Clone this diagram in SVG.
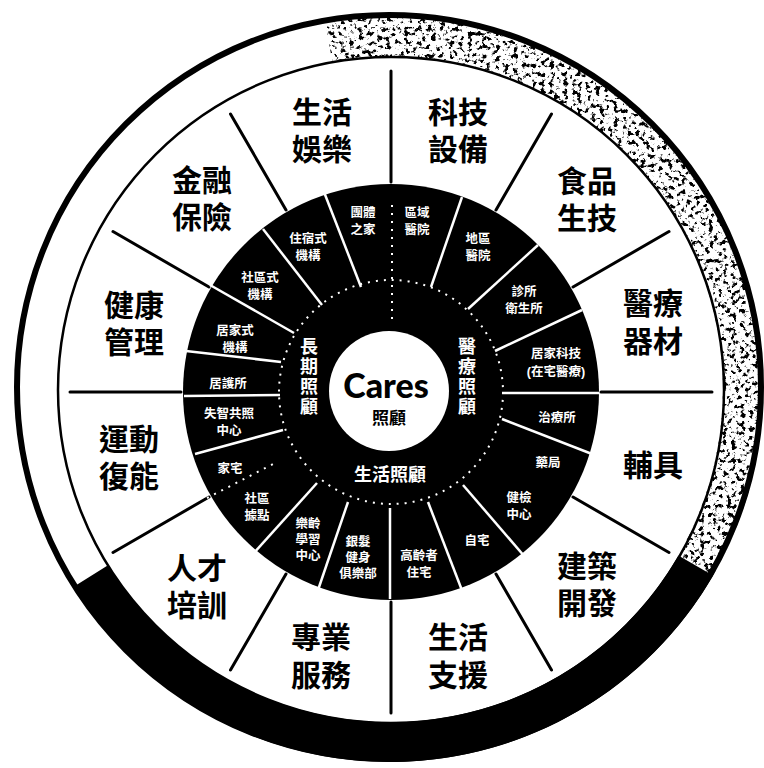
<svg xmlns="http://www.w3.org/2000/svg" width="764" height="768" viewBox="0 0 764 768">
<defs>
<style>
.big{font-family:"Liberation Sans","Noto Sans CJK TC","Noto Sans CJK SC",sans-serif;font-weight:bold;font-size:30px;fill:#000;text-anchor:middle}
.it{font-family:"Liberation Sans","Noto Sans CJK TC","Noto Sans CJK SC",sans-serif;font-weight:bold;font-size:12.5px;fill:#fff;text-anchor:middle}
.sec{font-family:"Noto Sans CJK TC","Noto Sans CJK SC",sans-serif;font-weight:bold;font-size:18px;fill:#fff;text-anchor:middle}
.vt{writing-mode:vertical-rl;letter-spacing:2px}
.dv{stroke:#000;stroke-width:3;stroke-linecap:round}
.wl{stroke:#fff;stroke-width:2.5}
.dt{stroke:#fff;stroke-width:2;stroke-dasharray:2 6;fill:none}
</style>
<filter id="speck" filterUnits="userSpaceOnUse" x="0" y="0" width="764" height="768">
<feTurbulence type="fractalNoise" baseFrequency="0.22" numOctaves="3" seed="11" result="n"/>
<feColorMatrix in="n" type="matrix" values="0 0 0 0 0  0 0 0 0 0  0 0 0 0 0  8 0 0 0 -4.3" result="a"/>
<feComposite in="a" in2="SourceAlpha" operator="in"/>
</filter>
</defs>
<rect width="764" height="768" fill="#fff"/>

<g id="rim">
<path d="M325.2 21.7 A373 373 0 0 1 713 575.5 L678.4 555.5 A333 333 0 0 0 332.2 61.1 Z" fill="#000" filter="url(#speck)"/>
<path d="M713 575.5 A373 373 0 0 1 73.7 586.7 L107.6 565.5 A333 333 0 0 0 678.4 555.5 Z" fill="#000"/>
<circle cx="389" cy="387" r="372" fill="none" stroke="#000" stroke-width="6"/>
<circle cx="391" cy="390" r="333" fill="none" stroke="#000" stroke-width="2.5"/>
</g>

<g id="connectors">
<line class="dv" x1="391" y1="182" x2="391" y2="71"/>
<line class="dv" x1="496" y1="210" x2="551.5" y2="114"/>
<line class="dv" x1="573" y1="287" x2="669" y2="231.5"/>
<line class="dv" x1="601" y1="392" x2="712" y2="392"/>
<line class="dv" x1="573" y1="497" x2="669" y2="552.5"/>
<line class="dv" x1="496" y1="574" x2="551.5" y2="670"/>
<line class="dv" x1="391" y1="602" x2="391" y2="713"/>
<line class="dv" x1="286" y1="574" x2="230.5" y2="670"/>
<line class="dv" x1="209" y1="497" x2="113" y2="552.5"/>
<line class="dv" x1="181" y1="392" x2="70" y2="392"/>
<line class="dv" x1="209" y1="287" x2="113" y2="231.5"/>
<line class="dv" x1="286" y1="210" x2="230.5" y2="114"/>
</g>

<g id="disk">
<circle cx="391" cy="392" r="208" fill="#000"/>
</g>

<g id="inner-connectors">
<line class="wl" x1="324" y1="192" x2="361" y2="287"/>
<line class="wl" x1="263" y1="229" x2="322" y2="305"/>
<line class="wl" x1="210" y1="285" x2="294" y2="333"/>
<line class="wl" x1="186" y1="351" x2="281" y2="362"/>
<line class="wl" x1="184" y1="396" x2="280" y2="395"/>
<line class="wl" x1="195" y1="454" x2="283" y2="430"/>
<line class="dt" x1="207" y1="498" x2="277" y2="462"/>
<line class="wl" x1="253" y1="554" x2="317" y2="483"/>
<line class="wl" x1="317" y1="593" x2="348" y2="502"/>
<line class="wl" x1="390" y1="599" x2="390" y2="508"/>
<line class="wl" x1="428" y1="502" x2="463" y2="593"/>
<line class="wl" x1="463" y1="485" x2="525" y2="557"/>
<line class="wl" x1="502" y1="419" x2="592" y2="454"/>
<line class="wl" x1="502" y1="393" x2="599" y2="393"/>
<line class="wl" x1="495" y1="351" x2="582" y2="310"/>
<line class="wl" x1="468" y1="309" x2="538" y2="245"/>
<line class="wl" x1="431" y1="287" x2="462" y2="197"/>
<line class="dt" x1="392" y1="205" x2="392" y2="323"/>
<circle class="dt" cx="391" cy="392" r="112" stroke-width="1.5" stroke-dasharray="1.5 15"/>
</g>

<g id="center">
<circle cx="389" cy="391" r="60" fill="#fff"/>
<text x="386" y="398" font-family="Lato, 'Liberation Sans', sans-serif" font-weight="900" font-size="34" text-anchor="middle" fill="#000">Cares</text>
<text x="389" y="424" font-family="'Noto Sans CJK TC', sans-serif" font-weight="bold" font-size="17" text-anchor="middle" fill="#000">照顧</text>
</g>

<g id="sec-longterm"><text class="sec vt" x="309" y="377">長期照顧</text></g>
<g id="sec-medical"><text class="sec vt" x="467" y="377">醫療照顧</text></g>
<g id="sec-life"><text class="sec" x="390" y="481">生活照顧</text></g>

<g id="i-group-home"><text class="it"><tspan x="363" y="217">團體</tspan><tspan x="363" y="234">之家</tspan></text></g>
<g id="i-regional-hosp"><text class="it"><tspan x="417" y="217">區域</tspan><tspan x="417" y="234">醫院</tspan></text></g>
<g id="i-district-hosp"><text class="it"><tspan x="478" y="243">地區</tspan><tspan x="478" y="260">醫院</tspan></text></g>
<g id="i-residential"><text class="it"><tspan x="308" y="243">住宿式</tspan><tspan x="308" y="260">機構</tspan></text></g>
<g id="i-community-inst"><text class="it"><tspan x="260" y="282">社區式</tspan><tspan x="260" y="299">機構</tspan></text></g>
<g id="i-home-inst"><text class="it"><tspan x="235" y="335">居家式</tspan><tspan x="235" y="352">機構</tspan></text></g>
<g id="i-home-nursing"><text class="it" x="228" y="388">居護所</text></g>
<g id="i-dementia"><text class="it"><tspan x="229" y="418">失智共照</tspan><tspan x="229" y="435">中心</tspan></text></g>
<g id="i-house"><text class="it" x="230" y="473">家宅</text></g>
<g id="i-community-point"><text class="it"><tspan x="257" y="503">社區</tspan><tspan x="257" y="520">據點</tspan></text></g>
<g id="i-learning"><text class="it"><tspan x="308" y="528">樂齡</tspan><tspan x="308" y="544">學習</tspan><tspan x="308" y="560">中心</tspan></text></g>
<g id="i-fitness"><text class="it"><tspan x="358" y="546">銀髮</tspan><tspan x="358" y="562">健身</tspan><tspan x="358" y="578">俱樂部</tspan></text></g>
<g id="i-senior-housing"><text class="it"><tspan x="419" y="560">高齡者</tspan><tspan x="419" y="577">住宅</tspan></text></g>
<g id="i-own-home"><text class="it" x="477" y="545">自宅</text></g>
<g id="i-checkup"><text class="it"><tspan x="519" y="502">健檢</tspan><tspan x="519" y="519">中心</tspan></text></g>
<g id="i-pharmacy"><text class="it" x="548" y="467">藥局</text></g>
<g id="i-therapy"><text class="it" x="557" y="422">治療所</text></g>
<g id="i-home-tech"><text class="it"><tspan x="556" y="358">居家科技</tspan><tspan x="556" y="376">(在宅醫療)</tspan></text></g>
<g id="i-clinic"><text class="it"><tspan x="524" y="296">診所</tspan><tspan x="524" y="313">衛生所</tspan></text></g>

<g id="s-leisure"><text class="big"><tspan x="322" y="123">生活</tspan><tspan x="322" y="160">娛樂</tspan></text></g>
<g id="s-tech"><text class="big"><tspan x="458" y="123">科技</tspan><tspan x="458" y="160">設備</tspan></text></g>
<g id="s-food"><text class="big"><tspan x="587" y="192">食品</tspan><tspan x="587" y="229">生技</tspan></text></g>
<g id="s-medical-device"><text class="big"><tspan x="653" y="314">醫療</tspan><tspan x="653" y="352">器材</tspan></text></g>
<g id="s-aids"><text class="big" x="653" y="476">輔具</text></g>
<g id="s-building"><text class="big"><tspan x="587" y="577">建築</tspan><tspan x="587" y="614">開發</tspan></text></g>
<g id="s-life-support"><text class="big"><tspan x="458" y="648">生活</tspan><tspan x="458" y="686">支援</tspan></text></g>
<g id="s-professional"><text class="big"><tspan x="321" y="648">專業</tspan><tspan x="321" y="686">服務</tspan></text></g>
<g id="s-talent"><text class="big"><tspan x="197" y="579">人才</tspan><tspan x="197" y="616">培訓</tspan></text></g>
<g id="s-rehab"><text class="big"><tspan x="129" y="450">運動</tspan><tspan x="129" y="487">復能</tspan></text></g>
<g id="s-health"><text class="big"><tspan x="134" y="316">健康</tspan><tspan x="134" y="353">管理</tspan></text></g>
<g id="s-finance"><text class="big"><tspan x="202" y="191">金融</tspan><tspan x="202" y="228">保險</tspan></text></g>
</svg>
